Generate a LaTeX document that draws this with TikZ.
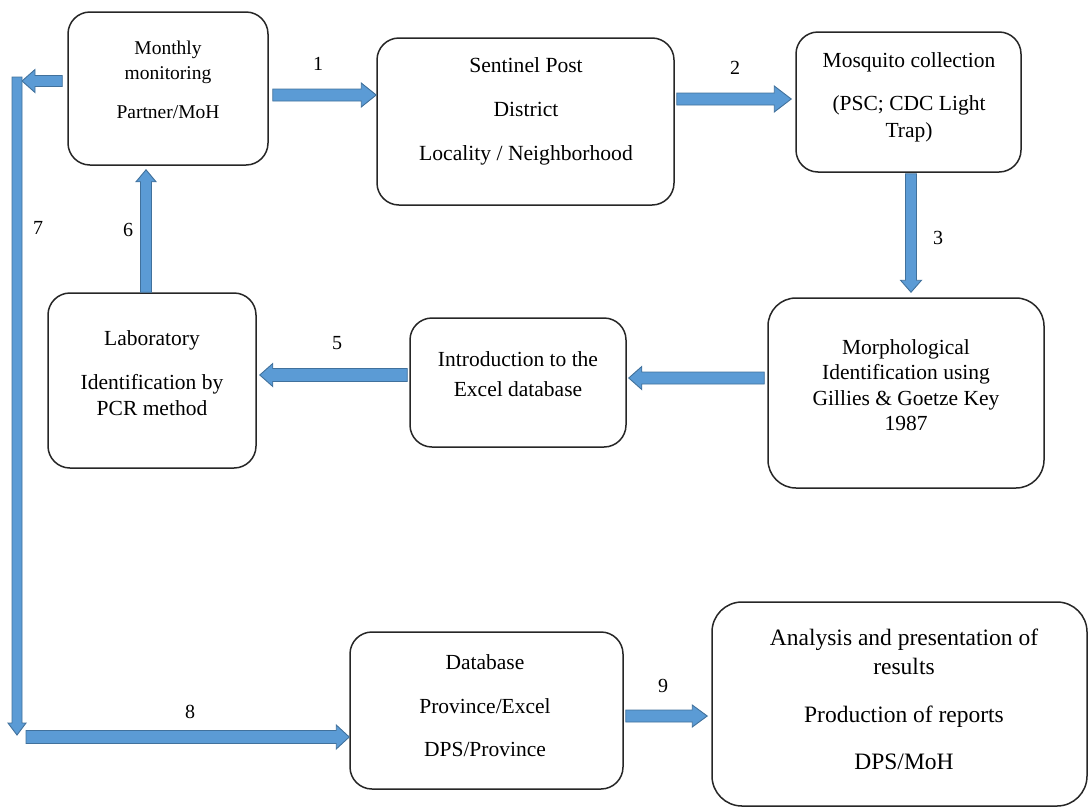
\documentclass[tikz,border=0pt]{standalone}
\usepackage{fontspec}
\setmainfont{Liberation Serif}
\newfontfamily\tnr{Liberation Serif}
\usetikzlibrary{calc}
\definecolor{afill}{HTML}{5B9BD5}
\definecolor{aline}{HTML}{41719C}
\definecolor{bline}{HTML}{262626}
\tikzset{
  box/.style={draw=bline, line width=1.5pt, rounded corners=22pt, fill=white},
  txt/.style={align=center, inner sep=0pt, text=black},
  lbl/.style={inner sep=0pt, font=\tnr\fontsize{20}{22}\selectfont},
  barrow/.style={fill=afill, draw=aline, line width=0.9pt, line join=miter}
}
% start, end, shaft half width, head half width, head length
\newcommand{\blockarrow}[5]{%
  \coordinate (ba-s) at (#1);
  \coordinate (ba-e) at (#2);
  \coordinate (ba-h) at ($(ba-e)!#5!(ba-s)$);
  \draw[barrow] ($(ba-s)!#3!90:(ba-e)$) -- ($(ba-h)!#3!-90:(ba-s)$) --
    ($(ba-h)!#4!-90:(ba-s)$) -- (ba-e) -- ($(ba-h)!#4!90:(ba-s)$) --
    ($(ba-h)!#3!90:(ba-s)$) -- ($(ba-s)!#3!-90:(ba-e)$) -- cycle;
}
\begin{document}
\begin{tikzpicture}[x=1pt, y=-1pt]
\useasboundingbox (0,0) rectangle (1089,809);
% boxes
\node[box, minimum width=200pt, minimum height=153pt] (mm) at (168,88.5) {};
\node[box, minimum width=297pt, minimum height=167pt] (sp) at (525.5,121.5) {};
\node[box, minimum width=225pt, minimum height=140pt] (mc) at (908.5,102) {};
\node[box, minimum width=276pt, minimum height=190pt, rounded corners=28pt] (mi) at (906,393) {};
\node[box, minimum width=216pt, minimum height=129pt] (ex) at (518,382.5) {};
\node[box, minimum width=208pt, minimum height=175pt] (lab) at (152,380.5) {};
\node[box, minimum width=273pt, minimum height=157pt] (db) at (486.5,710.5) {};
\node[box, minimum width=375pt, minimum height=204pt, rounded corners=30pt] (an) at (899.5,704) {};
% texts
\node[txt, font=\tnr\fontsize{19.5}{25}\selectfont] (mmt) at (168,80) {Monthly\\monitoring\\[14pt]Partner/MoH};
\node[txt, font=\tnr\fontsize{21.6}{44}\selectfont] (spt) at (526,111) {Sentinel Post\\District\\Locality / Neighborhood};
\node[txt, font=\tnr\fontsize{21.5}{27}\selectfont] (mct) at (909,97) {Mosquito collection\\[16pt](PSC; CDC Light\\Trap)};
\node[txt, font=\tnr\fontsize{21.5}{25.3}\selectfont] (mit) at (906,385) {Morphological\\Identification using\\Gillies \& Goetze Key\\1987};
\node[txt, font=\tnr\fontsize{21.5}{30}\selectfont] (ext) at (518,374) {Introduction to the\\Excel database};
\node[txt, font=\tnr\fontsize{21.5}{26}\selectfont] (labt) at (152,373) {Laboratory\\[18pt]Identification by\\PCR method};
\node[txt, font=\tnr\fontsize{21.5}{43.5}\selectfont] (dbt) at (485,706) {Database\\Province/Excel\\DPS/Province};
\node[txt, font=\tnr\fontsize{23.5}{29}\selectfont] (ant) at (904,699) {Analysis and presentation of\\results\\[19pt]Production of reports\\[18pt]DPS/MoH};
% corner coordinates of the feedback line
\coordinate (bartop) at (17,77);
\coordinate (barbot) at (17,735);
% arrows
\blockarrow{$(mm.east |- 0,95)+(4,0)$}{sp.west |- 0,95}{6pt}{12pt}{15pt}
\blockarrow{$(sp.east |- 0,99)+(2,0)$}{$(mc.west |- 0,99)+(-4,0)$}{6pt}{13pt}{17pt}
\blockarrow{$(mc.south -| 911,0)+(0,1)$}{$(mi.north -| 911,0)+(0,-5)$}{5.5pt}{10.5pt}{12pt}
\blockarrow{$(mi.west |- 0,378)+(-3,0)$}{$(ex.east |- 0,378)+(2,0)$}{6pt}{11.5pt}{13pt}
\blockarrow{$(ex.west |- 0,375)+(-2,0)$}{$(lab.east |- 0,375)+(3,0)$}{6.5pt}{11.5pt}{13pt}
\blockarrow{lab.north -| 146,0}{$(mm.south -| 146,0)+(0,4)$}{5.5pt}{10pt}{12pt}
\blockarrow{$(mm.west |- 0,81)+(-5,0)$}{$(bartop)+(5,4)$}{5.5pt}{11.5pt}{13pt}
\blockarrow{bartop}{barbot}{5pt}{9pt}{12pt}
\blockarrow{$(barbot)+(9,2)$}{db.west |- 0,737}{6.5pt}{12pt}{13pt}
\blockarrow{$(db.east |- 0,716)+(2,0)$}{$(an.west |- 0,716)+(-4,0)$}{6pt}{11pt}{15pt}
% labels
\node[lbl] (l1) at (318,64) {1};
\node[lbl] (l2) at (735,68) {2};
\node[lbl] (l3) at (938,238) {3};
\node[lbl] (l5) at (337,343) {5};
\node[lbl] (l6) at (128,230) {6};
\node[lbl] (l7) at (38,228) {7};
\node[lbl] (l8) at (190,712) {8};
\node[lbl] (l9) at (663,686) {9};
\end{tikzpicture}
\end{document}
